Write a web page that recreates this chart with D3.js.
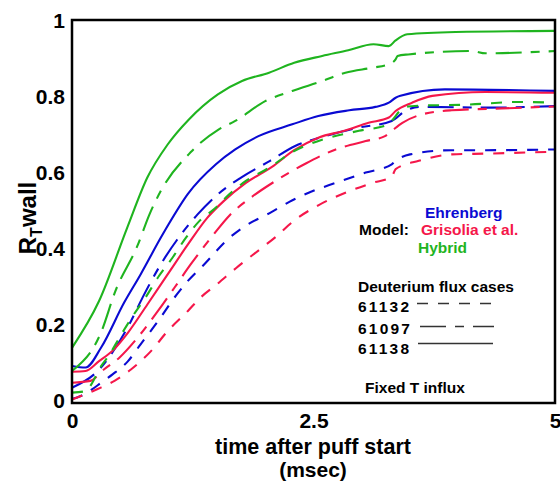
<!DOCTYPE html>
<html>
<head>
<meta charset="utf-8">
<script src="https://cdn.jsdelivr.net/npm/d3@7"></script>
<style>
  body { margin: 0; background: #fff; }
  text { font-family: "Liberation Sans", Arial, Helvetica, sans-serif; font-weight: bold; }
</style>
</head>
<body>
<div id="chart"></div>
<script>
// tick labels
var xTicks = [0, 2.5, 5];
var xTickLabels = ["0", "2.5", "5"];
var yTicks = [0, 0.2, 0.4, 0.6, 0.8, 1];
var yTickLabels = ["0", "0.2", "0.4", "0.6", "0.8", "1"];

// models and cases
var models = ["Ehrenberg", "Grisolia et al.", "Hybrid"];
var cases = ["61132", "61097", "61138"];

// [time msec, R_T wall]
var ehrenberg61138 = [[0,0.092],[0.14,0.088],[0.30,0.14],[0.54,0.259],[0.71,0.333],[0.92,0.43],[1.0,0.465],[1.2,0.545],[1.49,0.623],[1.69,0.662],[1.93,0.697],[2.28,0.728],[2.55,0.75],[2.87,0.765],[3.14,0.774],[3.28,0.785],[3.35,0.798],[3.40,0.803],[3.86,0.82],[5.0,0.816]];
var ehrenberg61097 = [[0,0.035],[0.30,0.088],[0.45,0.14],[0.61,0.21],[0.73,0.272],[0.92,0.36],[1.09,0.425],[1.30,0.491],[1.51,0.544],[1.75,0.588],[2.05,0.632],[2.31,0.671],[2.62,0.697],[2.96,0.719],[3.31,0.737],[3.45,0.763],[3.59,0.774],[4.3,0.772],[5.0,0.776]];
var ehrenberg61132 = [[0,0.005],[0.09,0.013],[0.21,0.031],[0.30,0.048],[0.42,0.07],[0.58,0.105],[0.71,0.149],[0.89,0.21],[1.06,0.272],[1.20,0.316],[1.37,0.36],[1.61,0.425],[1.82,0.465],[2.02,0.491],[2.25,0.524],[2.45,0.548],[2.73,0.574],[3.04,0.601],[3.31,0.623],[3.35,0.632],[3.50,0.649],[3.93,0.66],[4.28,0.66],[5.0,0.662]];

var grisolia61138 = [[0,0.077],[0.14,0.079],[0.28,0.105],[0.42,0.132],[0.58,0.18],[0.78,0.254],[0.99,0.333],[1.20,0.412],[1.40,0.482],[1.57,0.526],[1.80,0.574],[2.07,0.616],[2.30,0.66],[2.55,0.693],[2.83,0.712],[3.07,0.732],[3.28,0.746],[3.35,0.763],[3.52,0.785],[3.73,0.803],[4.28,0.813],[5.0,0.811]];
var grisolia61097 = [[0,0.048],[0.19,0.053],[0.33,0.083],[0.49,0.114],[0.68,0.167],[0.89,0.237],[1.06,0.298],[1.23,0.36],[1.44,0.43],[1.64,0.491],[1.85,0.535],[2.1,0.578],[2.42,0.625],[2.73,0.662],[3.04,0.684],[3.24,0.697],[3.31,0.711],[3.42,0.732],[3.62,0.754],[3.93,0.765],[4.45,0.77],[5.0,0.775]];
var grisolia61132 = [[0,0.004],[0.26,0.031],[0.44,0.053],[0.61,0.083],[0.82,0.132],[0.99,0.184],[1.20,0.237],[1.33,0.272],[1.50,0.307],[1.70,0.35],[1.95,0.40],[2.1,0.43],[2.3,0.475],[2.55,0.515],[2.83,0.548],[3.11,0.574],[3.31,0.590],[3.35,0.61],[3.59,0.632],[3.93,0.649],[4.28,0.651],[5.0,0.656]];

var hybrid61138 = [[0,0.14],[0.28,0.263],[0.57,0.455],[0.78,0.588],[0.99,0.675],[1.21,0.741],[1.51,0.807],[1.76,0.842],[2.04,0.864],[2.30,0.89],[2.59,0.908],[2.86,0.923],[3.12,0.939],[3.28,0.934],[3.35,0.949],[3.47,0.965],[3.97,0.971],[5.0,0.974]];
var hybrid61097 = [[0,0.079],[0.30,0.18],[0.45,0.29],[0.68,0.41],[0.80,0.49],[0.92,0.553],[1.23,0.655],[1.52,0.715],[1.69,0.737],[2.00,0.789],[2.28,0.816],[2.59,0.842],[2.83,0.864],[3.11,0.877],[3.28,0.886],[3.35,0.899],[3.37,0.908],[3.48,0.912],[4.14,0.921],[4.28,0.915],[5.0,0.921]];
var hybrid61132 = [[0,0.022],[0.14,0.026],[0.21,0.048],[0.28,0.083],[0.39,0.123],[0.51,0.175],[0.63,0.224],[0.76,0.272],[0.90,0.329],[1.04,0.377],[1.18,0.43],[1.32,0.474],[1.49,0.509],[1.59,0.535],[1.80,0.579],[2.04,0.614],[2.28,0.655],[2.62,0.69],[2.97,0.711],[3.28,0.728],[3.31,0.737],[3.45,0.774],[3.59,0.777],[4.10,0.78],[4.62,0.787],[5.0,0.785]];

var series = [
  { model: "Ehrenberg", cas: "61138", values: ehrenberg61138 },
  { model: "Ehrenberg", cas: "61097", values: ehrenberg61097 },
  { model: "Ehrenberg", cas: "61132", values: ehrenberg61132 },
  { model: "Grisolia et al.", cas: "61138", values: grisolia61138 },
  { model: "Grisolia et al.", cas: "61097", values: grisolia61097 },
  { model: "Grisolia et al.", cas: "61132", values: grisolia61132 },
  { model: "Hybrid", cas: "61138", values: hybrid61138 },
  { model: "Hybrid", cas: "61097", values: hybrid61097 },
  { model: "Hybrid", cas: "61132", values: hybrid61132 }
];

var colour = d3.scaleOrdinal().domain(models).range(["#0a0ad2", "#f5174a", "#1fb41f"]);
var dash = d3.scaleOrdinal().domain(cases).range(["11,10", "26,9,9,9", null]);

var W = 560, H = 483;
var svg = d3.select("#chart").append("svg").attr("width", W).attr("height", H);

var x = d3.scaleLinear().domain([0, 5]).range([72, 555]);
var y = d3.scaleLinear().domain([0, 1]).range([401, 21]);

// curves
var line = d3.line()
  .x(function (d) { return x(d[0]); })
  .y(function (d) { return y(d[1]); })
  .curve(d3.curveMonotoneX);

svg.append("g").selectAll("path").data(series).enter().append("path")
  .attr("d", function (d) { return line(d.values); })
  .attr("fill", "none")
  .attr("stroke", function (d) { return colour(d.model); })
  .attr("stroke-width", 2.1)
  .attr("stroke-dasharray", function (d) { return dash(d.cas); });

// frame
svg.append("rect")
  .attr("x", 72).attr("y", 20).attr("width", 483).attr("height", 383)
  .attr("fill", "none").attr("stroke", "#000").attr("stroke-width", 2.5);

// axes (labels only)
var yAxis = svg.append("g").attr("transform", "translate(72,0)")
  .call(d3.axisLeft(y).tickValues(yTicks).tickSize(0).tickPadding(7)
    .tickFormat(function (d, i) { return yTickLabels[i]; }));
var xAxis = svg.append("g").attr("transform", "translate(0,403)")
  .call(d3.axisBottom(x).tickValues(xTicks).tickSize(0).tickPadding(10)
    .tickFormat(function (d, i) { return xTickLabels[i]; }));
svg.selectAll(".domain").remove();
svg.selectAll(".tick text")
  .attr("font-family", "'Liberation Sans', Arial, sans-serif")
  .attr("font-weight", "bold").attr("font-size", 21).attr("fill", "#000");
xAxis.selectAll(".tick text").attr("dy", "0.72em");

// axis titles
svg.append("text").attr("x", 313).attr("y", 454).attr("text-anchor", "middle")
  .attr("font-size", 21.5).text("time after puff start");
svg.append("text").attr("x", 313).attr("y", 477).attr("text-anchor", "middle")
  .attr("font-size", 21).text("(msec)");

var yt = svg.append("text").attr("transform", "translate(36,218) rotate(-90)")
  .attr("text-anchor", "middle").attr("font-size", 24);
yt.append("tspan").text("R");
yt.append("tspan").attr("dy", 6).attr("font-size", 16).text("T");
yt.append("tspan").attr("dy", -6).text("wall");

// legend: models
var fs = 15.5;
svg.append("text").attr("x", 359).attr("y", 235).attr("font-size", fs).text("Model:");
svg.append("text").attr("x", 425).attr("y", 218).attr("font-size", fs).attr("fill", colour(models[0])).text(models[0]);
svg.append("text").attr("x", 421).attr("y", 235).attr("font-size", fs).attr("fill", colour(models[1])).text(models[1]);
svg.append("text").attr("x", 418).attr("y", 253).attr("font-size", fs).attr("fill", colour(models[2])).text(models[2]);

// legend: cases
svg.append("text").attr("x", 358).attr("y", 292).attr("font-size", fs).text("Deuterium flux cases");
var caseRows = [
  { cas: "61132", base: 312, ly: 303.5, x1: 417, x2: 491 },
  { cas: "61097", base: 334, ly: 326.5, x1: 420, x2: 494 },
  { cas: "61138", base: 354, ly: 343.5, x1: 418, x2: 493 }
];
caseRows.forEach(function (r) {
  svg.append("text").attr("x", 358).attr("y", r.base).attr("font-size", fs)
    .attr("letter-spacing", 2.2).text(r.cas);
  svg.append("line").attr("x1", r.x1).attr("x2", r.x2).attr("y1", r.ly).attr("y2", r.ly)
    .attr("stroke", "#333").attr("stroke-width", 1.3)
    .attr("stroke-dasharray", dash(r.cas));
});
svg.append("text").attr("x", 365).attr("y", 393).attr("font-size", fs).text("Fixed T influx");
</script>
</body>
</html>
